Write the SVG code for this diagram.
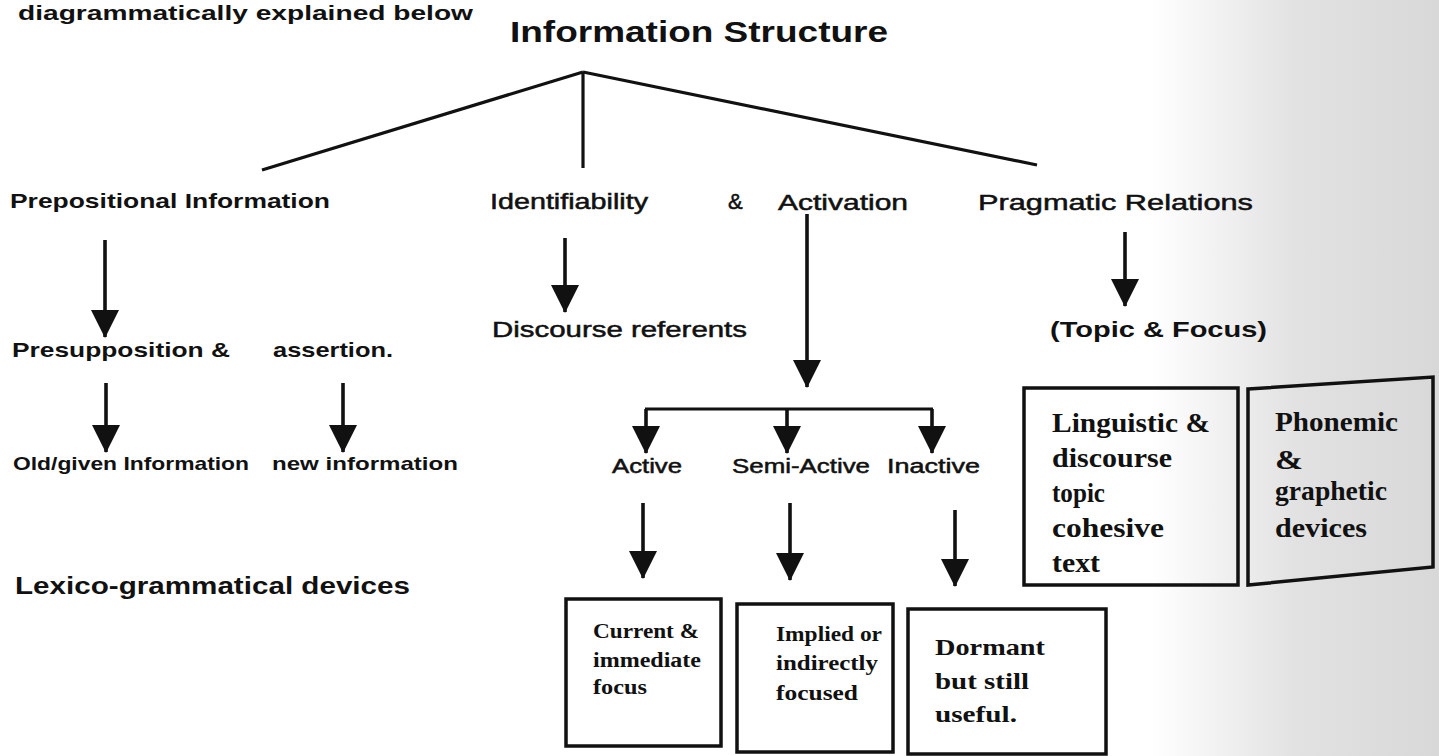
<svg xmlns="http://www.w3.org/2000/svg" width="1439" height="756" viewBox="0 0 1439 756">
<style>
.sans{font-family:"Liberation Sans",Arial,sans-serif;fill:#111;}
.b{font-weight:bold;}
.n{font-weight:normal;stroke:#111;stroke-width:0.5;}
.serif{font-family:"Liberation Serif","Times New Roman",serif;font-weight:bold;fill:#111;}
.ln{stroke:#111;stroke-width:3.2;fill:none;}
.ar{stroke:#111;stroke-width:3.6;fill:none;marker-end:url(#ah);}
.box{stroke:#111;stroke-width:3.5;fill:none;}
</style>
<defs>
<marker id="ah" markerUnits="userSpaceOnUse" markerWidth="28" markerHeight="28" viewBox="0 0 28 28" refX="27" refY="14" orient="auto">
<path d="M0,0 L28,14 L0,28 z" fill="#111"/>
</marker>
<linearGradient id="bg" x1="0" y1="0" x2="1" y2="0">
<stop offset="0" stop-color="#ffffff"/>
<stop offset="0.8" stop-color="#ffffff"/>
<stop offset="0.9" stop-color="#e2e2e2"/>
<stop offset="1" stop-color="#d8d8d8"/>
</linearGradient>
</defs>
<rect x="0" y="0" width="1439" height="756" fill="url(#bg)"/>

<g id="caption"><text class="sans b" x="18" y="20" font-size="20" textLength="455" lengthAdjust="spacingAndGlyphs">diagrammatically explained below</text></g>

<g id="connectors">
<line class="ln" x1="583" y1="72" x2="262" y2="170"/>
<line class="ln" x1="583" y1="72" x2="583" y2="168"/>
<line class="ln" x1="583" y1="72" x2="1037" y2="165"/>
<line class="ar" x1="105" y1="240" x2="105" y2="337"/>
<line class="ar" x1="106" y1="383" x2="106" y2="452"/>
<line class="ar" x1="343" y1="383" x2="343" y2="452"/>
<line class="ar" x1="565" y1="238" x2="565" y2="312"/>
<line class="ar" x1="807" y1="214" x2="807" y2="387"/>
<line class="ln" x1="645" y1="409" x2="933" y2="409"/>
<line class="ar" x1="646" y1="409" x2="646" y2="453"/>
<line class="ar" x1="787" y1="409" x2="787" y2="453"/>
<line class="ar" x1="932" y1="409" x2="932" y2="453"/>
<line class="ar" x1="643" y1="503" x2="643" y2="578"/>
<line class="ar" x1="790" y1="503" x2="790" y2="580"/>
<line class="ar" x1="955" y1="510" x2="955" y2="586"/>
<line class="ar" x1="1125" y1="232" x2="1125" y2="306"/>
</g>

<g id="title"><text class="sans b" x="510" y="42" font-size="29" textLength="378" lengthAdjust="spacingAndGlyphs">Information Structure</text></g>

<g id="prepositional"><text class="sans b" x="10" y="208" font-size="21" textLength="320" lengthAdjust="spacingAndGlyphs">Prepositional Information</text></g>
<g id="identifiability"><text class="sans n" x="490" y="209" font-size="22" textLength="158" lengthAdjust="spacingAndGlyphs">Identifiability</text></g>
<g id="amp"><text class="sans n" x="728" y="209" font-size="22">&amp;</text></g>
<g id="activation"><text class="sans n" x="778" y="210" font-size="22" textLength="130" lengthAdjust="spacingAndGlyphs">Activation</text></g>
<g id="pragmatic"><text class="sans n" x="978" y="210" font-size="22" textLength="275" lengthAdjust="spacingAndGlyphs">Pragmatic Relations</text></g>

<g id="presupposition"><text class="sans b" x="12" y="357" font-size="21" textLength="218" lengthAdjust="spacingAndGlyphs">Presupposition &amp;</text></g>
<g id="assertion"><text class="sans b" x="273" y="357" font-size="21" textLength="120" lengthAdjust="spacingAndGlyphs">assertion.</text></g>
<g id="old-given"><text class="sans b" x="13" y="470" font-size="19" textLength="236" lengthAdjust="spacingAndGlyphs">Old/given Information</text></g>
<g id="new-info"><text class="sans b" x="272" y="470" font-size="19" textLength="186" lengthAdjust="spacingAndGlyphs">new information</text></g>
<g id="lexico"><text class="sans b" x="15" y="594" font-size="23" textLength="395" lengthAdjust="spacingAndGlyphs">Lexico-grammatical devices</text></g>

<g id="discourse-referents"><text class="sans n" x="492" y="337" font-size="22" textLength="255" lengthAdjust="spacingAndGlyphs">Discourse referents</text></g>
<g id="active"><text class="sans n" x="612" y="473" font-size="20" textLength="70" lengthAdjust="spacingAndGlyphs">Active</text></g>
<g id="semi-active"><text class="sans n" x="732" y="473" font-size="20" textLength="138" lengthAdjust="spacingAndGlyphs">Semi-Active</text></g>
<g id="inactive"><text class="sans n" x="887" y="473" font-size="20" textLength="93" lengthAdjust="spacingAndGlyphs">Inactive</text></g>
<g id="topic-focus"><text class="sans b" x="1050" y="337" font-size="22" textLength="217" lengthAdjust="spacingAndGlyphs">(Topic &amp; Focus)</text></g>

<g id="box-current">
<rect class="box" x="566" y="599" width="155" height="147"/>
<text class="serif" font-size="20"><tspan x="593" y="638" textLength="106" lengthAdjust="spacingAndGlyphs">Current &amp;</tspan><tspan x="593" y="667" textLength="108" lengthAdjust="spacingAndGlyphs">immediate</tspan><tspan x="593" y="694" textLength="54" lengthAdjust="spacingAndGlyphs">focus</tspan></text>
</g>
<g id="box-implied">
<rect class="box" x="737" y="604" width="156" height="148"/>
<text class="serif" font-size="20"><tspan x="776" y="641" textLength="106" lengthAdjust="spacingAndGlyphs">Implied or</tspan><tspan x="776" y="670" textLength="102" lengthAdjust="spacingAndGlyphs">indirectly</tspan><tspan x="776" y="700" textLength="82" lengthAdjust="spacingAndGlyphs">focused</tspan></text>
</g>
<g id="box-dormant">
<rect class="box" x="908" y="609" width="198" height="145"/>
<text class="serif" font-size="23"><tspan x="935" y="655" textLength="110" lengthAdjust="spacingAndGlyphs">Dormant</tspan><tspan x="935" y="689" textLength="94" lengthAdjust="spacingAndGlyphs">but still</tspan><tspan x="935" y="722" textLength="82" lengthAdjust="spacingAndGlyphs">useful.</tspan></text>
</g>
<g id="box-linguistic">
<rect class="box" x="1024" y="388" width="214" height="197"/>
<text class="serif" font-size="27"><tspan x="1052" y="432" textLength="158" lengthAdjust="spacingAndGlyphs">Linguistic &amp;</tspan><tspan x="1052" y="467" textLength="120" lengthAdjust="spacingAndGlyphs">discourse</tspan><tspan x="1052" y="502" textLength="53" lengthAdjust="spacingAndGlyphs">topic</tspan><tspan x="1052" y="537" textLength="112" lengthAdjust="spacingAndGlyphs">cohesive</tspan><tspan x="1052" y="572" textLength="48" lengthAdjust="spacingAndGlyphs">text</tspan></text>
</g>
<g id="box-phonemic">
<polygon class="box" points="1248,389 1433,377 1433,567 1248,585"/>
<text class="serif" font-size="27"><tspan x="1275" y="431" textLength="123" lengthAdjust="spacingAndGlyphs">Phonemic</tspan><tspan x="1275" y="469" textLength="28" lengthAdjust="spacingAndGlyphs">&amp;</tspan><tspan x="1275" y="500" textLength="112" lengthAdjust="spacingAndGlyphs">graphetic</tspan><tspan x="1275" y="537" textLength="92" lengthAdjust="spacingAndGlyphs">devices</tspan></text>
</g>
</svg>
